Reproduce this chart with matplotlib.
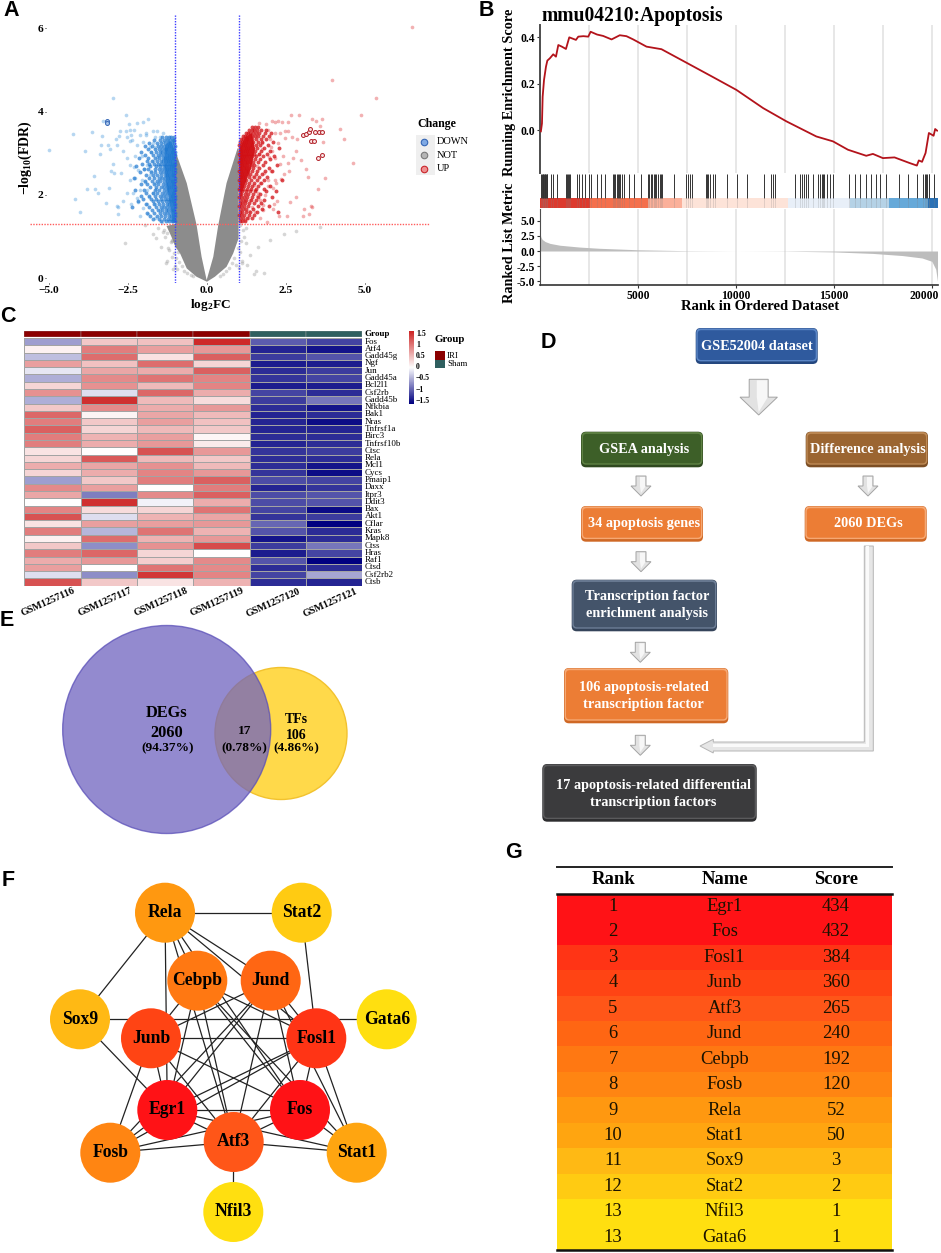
import matplotlib
matplotlib.use("Agg")
import matplotlib.pyplot as plt
from matplotlib.colors import LinearSegmentedColormap
from matplotlib.patches import Circle, FancyBboxPatch, Polygon, Rectangle
from matplotlib.transforms import ScaledTranslation
import numpy as np

W, H = 941, 1253
SERIF = "Liberation Serif"
SANS = "Liberation Sans"

# --- panel A: points (log2FC, -log10 FDR)
blue_x = [-2.96, -2.55, -3.28, -4.23, -3.65, -3.31, -4.99, -3.87, -3.35, -3.12, -3.38, -3.07, -2.96, -3.05, -2.94, -3.56,
          -2.72, -3.79, -3.53, -3.09, -3.44, -4.18, -4.02, -3.18, -2.84, -2.81, -2.83, -2.66, -2.23, -2.01, -1.88, -2.46,
          -2.56, -2.75, -2.31, -2.44, -2.42, -2.52, -2.78, -2.88, -2.84, -2.44, -2.36, -1.93, -1.93, -1.72, -1.57, -1.38,
          -1.65, -1.49, -2.12, -2.23, -2.01, -1.70, -1.65, -1.80, -1.38, -1.22, -1.12, -2.65, -2.52, -2.28, -2.07, -2.44,
          -2.17, -1.91, -1.70, -2.28, -2.44, -2.07, -1.80, -1.65, -2.54, -2.33, -2.12, -1.91, -1.70, -2.42, -2.17, -1.91,
          -1.65, -2.12, -1.86, -1.65, -1.49, -1.43, -1.98, -1.76, -1.84, -2.03, -1.58, -1.62, -1.77, -1.95, -2.20, -2.31]
blue_y = [4.32, 3.92, 3.77, 3.47, 3.52, 3.41, 3.08, 3.05, 3.19, 3.19, 2.97, 3.10, 2.73, 2.56, 2.52, 2.44,
          2.52, 2.15, 2.15, 2.16, 2.05, 1.90, 1.58, 1.81, 1.73, 1.70, 1.53, 1.84, 3.73, 3.76, 3.81, 3.69,
          3.54, 3.54, 3.56, 3.56, 3.44, 3.40, 3.42, 3.33, 3.20, 3.29, 3.32, 3.49, 3.44, 3.54, 3.54, 3.49,
          3.38, 3.40, 3.44, 3.20, 3.28, 3.24, 3.16, 3.14, 3.28, 3.32, 3.32, 3.04, 2.88, 2.92, 2.92, 2.72,
          2.60, 2.72, 2.80, 2.40, 2.36, 2.36, 2.48, 2.28, 2.04, 2.04, 2.12, 2.12, 2.04, 1.79, 1.83, 1.79,
          1.79, 1.49, 1.54, 1.43, 1.63, 1.35, 2.61, 2.58, 1.95, 1.68, 2.90, 2.14, 3.02, 2.30, 1.92, 2.66]
blue_mark_x = [-3.17, -3.17]
blue_mark_y = [3.78, 3.73]
# crowded part of the down-regulated genes, estimated row by row
blue_row_y = [3.38, 3.31, 3.24, 3.17, 3.10, 3.03, 2.96, 2.89, 2.82, 2.75, 2.68, 2.61, 2.54, 2.47, 2.40, 2.33, 2.26, 2.19, 2.12,
              2.05, 1.98, 1.91, 1.84, 1.77, 1.70, 1.63, 1.56, 1.49, 1.42, 1.36]
blue_row_x = [[-1.05, -1.13, -1.21, -1.31, -1.42],
              [-1.04, -1.09, -1.18, -1.27, -1.36, -1.50, -1.68],
              [-1.03, -1.12, -1.16, -1.24, -1.33, -1.44, -1.59, -1.82],
              [-1.02, -1.08, -1.14, -1.20, -1.27, -1.37, -1.47, -1.56, -1.75, -1.95],
              [-1.03, -1.07, -1.15, -1.22, -1.30, -1.34, -1.43, -1.52, -1.66, -1.88],
              [-1.01, -1.06, -1.11, -1.18, -1.25, -1.33, -1.41, -1.49, -1.61, -1.78, -2.10],
              [-1.02, -1.09, -1.13, -1.20, -1.28, -1.36, -1.46, -1.55, -1.70, -1.97],
              [-1.03, -1.07, -1.14, -1.19, -1.26, -1.32, -1.40, -1.51, -1.64, -1.86, -2.15],
              [-1.02, -1.10, -1.16, -1.23, -1.30, -1.38, -1.47, -1.58, -1.73, -1.90],
              [-1.01, -1.05, -1.12, -1.18, -1.27, -1.35, -1.44, -1.54, -1.68, -1.83, -2.05],
              [-1.03, -1.08, -1.15, -1.21, -1.29, -1.37, -1.48, -1.60, -1.79, -2.24],
              [-1.02, -1.06, -1.13, -1.20, -1.26, -1.34, -1.42, -1.53, -1.65, -1.87, -2.00],
              [-1.01, -1.09, -1.14, -1.22, -1.31, -1.39, -1.50, -1.63, -1.76, -2.12],
              [-1.03, -1.07, -1.12, -1.19, -1.25, -1.33, -1.45, -1.57, -1.71, -1.93],
              [-1.02, -1.08, -1.16, -1.24, -1.32, -1.41, -1.52, -1.67, -1.84, -2.30],
              [-1.01, -1.06, -1.11, -1.18, -1.27, -1.36, -1.48, -1.59, -1.74, -1.96],
              [-1.03, -1.09, -1.15, -1.23, -1.30, -1.40, -1.55, -1.69, -1.89, -2.08],
              [-1.02, -1.07, -1.13, -1.20, -1.28, -1.37, -1.46, -1.62, -1.81],
              [-1.01, -1.05, -1.12, -1.19, -1.26, -1.35, -1.51, -1.66, -1.99, -2.27],
              [-1.03, -1.08, -1.14, -1.22, -1.33, -1.43, -1.58, -1.72, -1.92],
              [-1.02, -1.06, -1.11, -1.18, -1.29, -1.39, -1.49, -1.64, -1.85, -2.10],
              [-1.01, -1.09, -1.15, -1.24, -1.34, -1.47, -1.61, -1.78, -2.02],
              [-1.03, -1.07, -1.13, -1.21, -1.31, -1.42, -1.56, -1.70, -2.18],
              [-1.02, -1.05, -1.12, -1.19, -1.27, -1.38, -1.53, -1.69, -1.94],
              [-1.01, -1.08, -1.16, -1.25, -1.36, -1.45, -1.60, -1.82, -2.36],
              [-1.03, -1.06, -1.14, -1.22, -1.30, -1.41, -1.54, -1.75],
              [-1.02, -1.09, -1.17, -1.26, -1.35, -1.50, -1.67, -1.90],
              [-1.01, -1.07, -1.13, -1.21, -1.33, -1.44, -1.58, -1.80],
              [-1.03, -1.08, -1.15, -1.24, -1.37, -1.52, -1.72],
              [-1.02, -1.06, -1.12, -1.20, -1.31, -1.47]]
red_x = [2.66, 2.91, 3.33, 3.45, 3.63, 4.87, 3.59, 4.20, 4.33, 4.61, 3.73, 3.52, 3.13, 3.21, 2.81, 3.29, 3.33, 3.08, 3.23, 3.05,
         2.52, 2.29, 2.23, 2.63, 2.11, 1.78, 2.10, 1.68, 1.91, 3.67, 2.99, 2.86, 2.68, 2.47, 2.82, 2.73, 2.42, 2.31, 2.57, 2.60,
         2.35, 2.15, 1.94, 2.20, 2.10, 1.68, 1.62, 1.52, 1.36, 1.41, 1.52, 1.68, 1.84, 1.31, 1.65, 1.87, 2.05, 2.15, 2.26, 2.36,
         2.55, 1.94, 2.15, 2.31, 2.47, 2.55, 1.99, 2.26, 2.07, 2.15, 3.95, 5.34, 6.48, 1.73, 1.58, 1.82, 1.97, 1.46, 1.77, 1.92,
         1.66, 2.02, 1.33, 1.21, 1.48, 1.74, 2.44, 2.03, 1.58, 1.19]
red_y = [3.91, 3.91, 3.81, 3.78, 3.81, 3.91, 3.65, 3.57, 3.35, 2.77, 2.41, 2.15, 2.61, 2.42, 1.94, 1.73, 1.70, 1.65, 1.55, 1.49,
         1.50, 1.50, 1.86, 1.83, 1.79, 1.63, 1.67, 1.43, 1.35, 3.28, 2.84, 3.33, 3.38, 3.36, 3.04, 2.88, 2.92, 2.73, 2.76, 2.58,
         2.37, 2.36, 2.36, 2.28, 2.16, 2.28, 2.04, 2.12, 1.88, 1.71, 1.59, 1.88, 2.00, 1.43, 3.73, 3.70, 3.78, 3.76, 3.78, 3.76,
         3.76, 3.56, 3.48, 3.48, 3.54, 3.54, 3.33, 3.24, 3.04, 2.88, 4.76, 4.32, 6.02, 3.24, 2.70, 2.52, 2.90, 2.44, 1.76, 2.20,
         2.97, 2.58, 1.62, 1.40, 2.24, 3.10, 2.51, 3.14, 1.97, 1.84]
red_mark_x = [3.04, 3.12, 3.23, 3.27, 3.43, 3.55, 3.64, 3.30, 3.40, 3.53, 3.63]
red_mark_y = [3.43, 3.45, 3.50, 3.57, 3.50, 3.50, 3.50, 3.29, 3.29, 2.88, 2.96]
red_row_y = [3.62, 3.55, 3.48, 3.41, 3.34, 3.27, 3.20, 3.13, 3.06, 2.99, 2.92, 2.85, 2.78, 2.71, 2.64, 2.57, 2.50, 2.43, 2.36, 2.29,
             2.22, 2.15, 2.08, 2.01, 1.94, 1.87, 1.80, 1.73, 1.66, 1.59, 1.52, 1.45, 1.38]
red_row_x = [[1.44, 1.52, 1.61],
             [1.33, 1.41, 1.50, 1.58, 1.72, 1.86],
             [1.22, 1.30, 1.37, 1.46, 1.55, 1.66, 1.84, 2.02],
             [1.14, 1.20, 1.28, 1.35, 1.42, 1.51, 1.63, 1.78, 1.95],
             [1.08, 1.15, 1.22, 1.27, 1.34, 1.43, 1.56, 1.70, 1.88],
             [1.03, 1.10, 1.17, 1.24, 1.31, 1.38, 1.47, 1.60, 1.75, 2.10],
             [1.02, 1.08, 1.14, 1.20, 1.28, 1.36, 1.44, 1.54, 1.67, 1.92],
             [1.04, 1.09, 1.16, 1.22, 1.30, 1.37, 1.46, 1.58, 1.81, 2.28],
             [1.03, 1.07, 1.13, 1.19, 1.26, 1.33, 1.41, 1.52, 1.72, 1.98],
             [1.02, 1.09, 1.15, 1.23, 1.30, 1.38, 1.49, 1.64, 1.89],
             [1.04, 1.10, 1.17, 1.25, 1.34, 1.43, 1.56, 1.76, 2.13],
             [1.03, 1.08, 1.14, 1.21, 1.29, 1.40, 1.53, 1.69, 2.00],
             [1.02, 1.07, 1.12, 1.19, 1.27, 1.36, 1.47, 1.62, 1.85],
             [1.04, 1.11, 1.18, 1.26, 1.39, 1.50, 1.78, 2.22],
             [1.03, 1.09, 1.16, 1.24, 1.33, 1.45, 1.65, 1.95],
             [1.02, 1.08, 1.15, 1.22, 1.31, 1.42, 1.59, 1.83, 2.07],
             [1.04, 1.10, 1.17, 1.28, 1.37, 1.55, 1.73],
             [1.03, 1.07, 1.13, 1.20, 1.34, 1.48, 1.66, 1.90],
             [1.02, 1.09, 1.16, 1.25, 1.40, 1.57, 1.81, 2.38],
             [1.05, 1.12, 1.21, 1.33, 1.49, 1.70],
             [1.03, 1.10, 1.18, 1.29, 1.44, 1.63, 1.98],
             [1.02, 1.08, 1.15, 1.26, 1.39, 1.56, 1.79],
             [1.04, 1.11, 1.22, 1.35, 1.51, 1.88, 2.17],
             [1.03, 1.09, 1.19, 1.31, 1.47, 1.69],
             [1.02, 1.07, 1.16, 1.27, 1.42, 1.60, 2.05],
             [1.05, 1.13, 1.24, 1.38, 1.54, 1.80],
             [1.03, 1.10, 1.20, 1.34, 1.49, 1.72],
             [1.02, 1.08, 1.17, 1.30, 1.62, 1.96],
             [1.04, 1.14, 1.25, 1.45, 1.74],
             [1.03, 1.11, 1.22, 1.37, 1.57, 2.26],
             [1.02, 1.09, 1.18, 1.32, 1.50],
             [1.05, 1.15, 1.28, 1.41],
             [1.03, 1.12, 1.21]]
grey_x = [-1.54, -1.70, -1.95, -1.32, -1.21, -2.60, -1.45, -1.12, -1.30, -1.08, -1.18, 1.22, 1.35, 1.55, 1.80, 2.00, 2.45,
          2.82, 3.58, 1.12, 1.28, 1.48, 1.60, -1.62, -1.25, -1.10, -1.40, -1.35, -1.28, -1.15, -1.05, -1.22, -0.98, -0.92,
          -0.88, -0.80, -0.72, -0.62, -0.52, -0.43, 0.42, 0.50, 0.61, 0.70, 0.78, 0.86, 0.92, 0.98, 1.05, 1.08, 1.15, 1.10,
          1.18, 1.25, 1.04, 1.02, -1.05, -1.12, -1.02, -0.95]
grey_y = [1.20, 1.05, 1.28, 0.98, 0.68, 0.85, 0.75, 0.50, 0.35, 0.22, 1.18, 0.85, 0.55, 0.18, 0.12, 0.92, 1.05,
          1.12, 1.22, 0.35, 0.32, 0.10, 0.75, 0.95, 0.42, 0.90, 1.10, 1.16, 1.08, 0.86, 1.05, 0.72, 0.48, 0.62,
          0.38, 0.28, 0.18, 0.12, 0.07, 0.04, 0.05, 0.10, 0.16, 0.23, 0.36, 0.48, 0.32, 0.72, 0.62, 0.90, 1.15, 0.42,
          0.98, 1.20, 1.28, 0.25, 0.60, 0.92, 0.30, 0.22]
# envelope of the solid parts of the cloud
grey_env_x = [-0.01, -0.17, -0.33, -0.64, -1.0, -1.0, -1.28, -1.13, -1.0, -0.85, -0.64, -0.33, 0.0, 0.25, 0.62, 0.83, 1.0,
              1.0, 0.97, 0.62, 0.36, 0.20]
grey_env_y = [-0.05, 0.51, 1.28, 2.28, 3.05, 1.30, 1.25, 1.0, 0.75, 0.59, 0.23, 0.03, -0.09, 0.03, 0.27, 0.59, 0.95,
              3.10, 3.12, 2.28, 1.28, 0.51]
blue_core_x = [-1.0, -1.0, -1.16, -1.32, -1.36, -1.28, -1.16, -1.08]
blue_core_y = [1.40, 3.02, 3.30, 3.20, 2.80, 2.20, 1.70, 1.42]
red_core_x = [1.0, 1.0, 1.20, 1.42, 1.52, 1.40, 1.22, 1.08]
red_core_y = [2.10, 3.05, 3.38, 3.48, 3.10, 2.65, 2.30, 2.05]

# --- panel B
es_rank = [30, 85, 120, 190, 290, 360, 490, 660, 800, 920, 1100, 1310, 1480, 1820, 1940, 2200, 2450, 2570, 2900, 3210, 3640,
           4060, 4400, 4745, 5425, 6190, 7465, 8825, 10020, 11380, 12570, 14100, 14950, 15715, 16650, 16990, 17500,
           18095, 18860, 19235, 19335, 19500, 19680, 19850, 20090, 20170, 20270]
es_value = [-0.004, 0.03, 0.145, 0.217, 0.274, 0.30, 0.31, 0.327, 0.317, 0.367, 0.36, 0.35, 0.40, 0.389, 0.403, 0.405, 0.403,
            0.424, 0.412, 0.406, 0.391, 0.409, 0.405, 0.391, 0.36, 0.349, 0.291, 0.229, 0.174, 0.096, 0.039, -0.026, -0.047,
            -0.083, -0.109, -0.101, -0.119, -0.116, -0.14, -0.151, -0.129, -0.135, -0.097, -0.011, -0.023, 0.006, -0.001]
hit_ranks = [50, 85, 120, 155, 185, 220, 255, 290, 325, 355, 545, 665, 865, 1290, 1345, 1395, 1460, 1515, 1855, 1990, 2140,
             2280, 2500, 2565, 2875, 3095, 3330, 3690, 3755, 3825, 3895, 3960, 4030, 4095, 4165, 4300, 4540, 4775, 5135,
             5510, 5575, 5645, 5710, 5795, 5865, 5935, 6020, 6105, 6190, 6240, 6815, 7465, 7550, 7635, 7770, 8450, 8515,
             8585, 8685, 8825, 8910, 9555, 10065, 10555, 11405, 11800, 11885, 11985, 12990, 13275, 13360, 13445, 13550,
             13670, 13925, 14210, 14295, 14365, 14435, 14500, 14635, 14775, 14945, 15745, 16080, 16335, 16645, 16900,
             17155, 17375, 17665, 18310, 18770, 19245, 19565, 19635, 19700, 19770, 19840, 19875, 20130]
band_edges = [0, 2550, 5500, 7250, 12650, 15800, 17800, 19800, 20300]
band_colors = ["#dc3a2e", "#f4704d", "#fbb09a", "#fde3d8", "#e8eff8", "#b5d2e6", "#66a9d9", "#2b71b5"]
metric_rank = [0, 30, 100, 250, 500, 1000, 2000, 3000, 5000, 7500, 10000, 12500, 15000, 17000, 18500, 19500, 20000, 20200, 20290]
metric_value = [2.7, 2.3, 1.9, 1.55, 1.25, 0.95, 0.65, 0.45, 0.2, 0.05, 0.0, -0.03, -0.15, -0.4, -0.75, -1.15, -1.7, -3.0, -5.0]

# --- panel C
genes = ["Fos", "Atf4", "Gadd45g", "Ngf", "Jun", "Gadd45a", "Bcl2l1", "Csf2rb", "Gadd45b", "Nfkbia", "Bak1", "Nras", "Tnfrsf1a",
         "Birc3", "Tnfrsf10b", "Ctsc", "Rela", "Mcl1", "Cycs", "Pmaip1", "Daxx", "Itpr3", "Ddit3", "Bax", "Akt1", "Cflar",
         "Kras", "Mapk8", "Ctss", "Hras", "Raf1", "Ctsd", "Csf2rb2", "Ctsb"]
samples = ["GSM1257116", "GSM1257117", "GSM1257118", "GSM1257119", "GSM1257120", "GSM1257121"]
gsm116 = [-0.6, 0.1, -0.4, 0.7, -0.15, -0.5, 0.3, 0.8, -0.5, 0.4, 1.1, 0.95, 1.15, 0.95, 0.95, 0.2, 0.3, 0.6, 0.3, -0.6, 0.85,
          0.65, 0.0, 0.9, 1.25, 0.2, 0.95, 0.1, 0.4, 0.95, 0.6, 0.7, -0.2, 1.25]
gsm117 = [0.4, 0.95, 1.05, 0.45, 0.65, 0.85, 0.8, -0.2, 1.5, 0.85, 0.08, 0.4, 0.3, 0.55, 0.6, 0.0, 1.2, 0.65, 0.6, 0.4, 0.7,
          -0.8, 1.5, 0.25, -0.2, 0.7, -0.45, 1.05, -0.7, 1.1, 0.75, 0.0, -0.7, 0.4]
gsm118 = [0.45, 0.7, 0.2, 1.05, 0.6, 1.0, 0.5, 1.1, 0.5, 0.6, 0.65, 0.7, 0.5, 0.7, 0.75, 1.25, 0.5, 0.8, 0.9, 0.95, 0.0,
          0.85, -0.08, 0.3, 0.55, 0.7, 1.0, 0.55, 0.8, 0.3, 0.35, 1.0, 1.45, 0.2]
gsm119 = [1.55, 0.75, 1.15, 0.3, 1.15, 0.9, 0.9, 0.6, 0.25, 0.75, 0.5, 0.45, 0.4, 0.07, 0.15, 0.75, 0.4, 0.5, 0.75, 1.15, 0.95,
          1.15, 0.6, 1.0, 0.65, 0.75, 0.55, 0.75, 1.3, 0.0, 0.85, 0.85, 0.9, 0.55]
gsm120 = [-1.0, -1.35, -1.2, -1.4, -1.3, -1.25, -1.4, -1.15, -1.2, -1.3, -1.35, -1.35, -1.35, -1.3, -1.35, -1.25, -1.3, -1.3,
          -1.25, -1.1, -1.35, -1.1, -1.1, -1.15, -1.25, -0.95, -1.05, -1.45, -1.2, -1.4, -1.05, -1.3, -1.15, -1.3]
gsm121 = [-1.15, -1.45, -1.05, -1.4, -1.2, -1.15, -1.4, -1.3, -0.85, -1.45, -1.3, -1.5, -1.35, -1.3, -1.3, -1.2, -1.3, -1.45,
          -1.5, -1.15, -1.25, -1.05, -1.05, -1.5, -1.2, -1.6, -1.3, -1.3, -0.85, -1.15, -1.6, -1.3, -0.55, -1.35]
group_colors = ["#8b0000", "#8b0000", "#8b0000", "#8b0000", "#2f5f5f", "#2f5f5f"]
bar_ticks = [1.5, 1, 0.5, 0, -0.5, -1, -1.5]
bar_labels = ["1.5", "1", "0.5", "0", "\u22120.5", "\u22121", "\u22121.5"]

# --- panel F
node_names = ["Rela", "Stat2", "Cebpb", "Jund", "Sox9", "Gata6", "Junb", "Fosl1", "Egr1", "Fos", "Atf3", "Fosb", "Stat1", "Nfil3"]
node_px_x = [165, 301.7, 197.3, 270.7, 80, 386.7, 151, 316.3, 167.3, 300, 233.7, 110.3, 356.7, 233.3]
node_px_y = [912.7, 912.7, 980.7, 980.7, 1019.3, 1019.3, 1038.3, 1038.3, 1110, 1110, 1142, 1152.7, 1152.7, 1212]
edges = [("Rela", "Stat2"), ("Rela", "Sox9"), ("Rela", "Egr1"), ("Rela", "Cebpb"), ("Rela", "Jund"), ("Rela", "Atf3"), ("Rela", "Fos"),
         ("Rela", "Fosl1"), ("Stat2", "Fosl1"), ("Sox9", "Gata6"), ("Sox9", "Egr1"), ("Atf3", "Nfil3"), ("Junb", "Fosl1"), ("Junb", "Fos"),
         ("Junb", "Egr1"), ("Junb", "Atf3"), ("Junb", "Fosb"), ("Junb", "Cebpb"), ("Junb", "Jund"), ("Fosl1", "Egr1"), ("Fosl1", "Atf3"),
         ("Fosl1", "Fos"), ("Fosl1", "Stat1"), ("Fosl1", "Fosb"), ("Egr1", "Fos"), ("Egr1", "Atf3"), ("Egr1", "Fosb"), ("Egr1", "Stat1"),
         ("Egr1", "Jund"), ("Egr1", "Cebpb"), ("Fos", "Atf3"), ("Fos", "Stat1"), ("Fos", "Fosb"), ("Fos", "Cebpb"), ("Fos", "Jund"),
         ("Atf3", "Stat1"), ("Atf3", "Fosb"), ("Atf3", "Jund"), ("Atf3", "Cebpb"), ("Cebpb", "Fosl1"), ("Cebpb", "Stat1"),
         ("Jund", "Fosl1"), ("Jund", "Stat1"), ("Jund", "Fosb")]

# --- panel G
table_rank = [1, 2, 3, 4, 5, 6, 7, 8, 9, 10, 11, 12, 13, 13]
table_name = ["Egr1", "Fos", "Fosl1", "Junb", "Atf3", "Jund", "Cebpb", "Fosb", "Rela", "Stat1", "Sox9", "Stat2", "Nfil3", "Gata6"]
table_score = [434, 432, 384, 360, 265, 240, 192, 120, 52, 50, 3, 2, 1, 1]
table_color = ["#ff1216", "#ff1216", "#ff3415", "#ff4414", "#ff5618", "#ff6613", "#ff7812", "#ff8512", "#ff9810", "#ffa510",
               "#ffb914", "#ffcb12", "#ffdf10", "#ffdf10"]
node_color = dict(zip(table_name, table_color))


def px_axes(fig, left, top, right, bottom):
    return fig.add_axes([left / W, 1 - bottom / H, (right - left) / W, (bottom - top) / H])


def rows_to_points(row_y, row_x):
    xs, ys = [], []
    for y, row in zip(row_y, row_x):
        xs += row
        ys += [y] * len(row)
    return xs, ys


def volcano(fig):
    ax = px_axes(fig, 46, 15, 430, 283)
    ax.set_xlim(-5.095, 7.06)
    ax.set_ylim(-0.12, 6.32)
    ax.fill(blue_core_x, blue_core_y, color="#1f78d0", alpha=0.7, lw=0)
    ax.fill(red_core_x, red_core_y, color="#d10f14", alpha=0.85, lw=0)
    ax.scatter(grey_x, grey_y, s=7, color="#9a9a9a", alpha=0.4, lw=0)
    ax.fill(grey_env_x, grey_env_y, color="#8c8c8c", lw=0)
    ax.scatter(blue_x, blue_y, s=7, color="#4a9ade", alpha=0.40, lw=0)
    ax.scatter(red_x, red_y, s=7, color="#e03c40", alpha=0.40, lw=0)
    bx, by = rows_to_points(blue_row_y, blue_row_x)
    rx, ry = rows_to_points(red_row_y, red_row_x)
    ax.scatter(bx, by, s=8, color="#1f78d0", alpha=0.7, lw=0)
    ax.scatter(rx, ry, s=8, color="#d10f14", alpha=0.75, lw=0)
    ax.scatter(blue_mark_x, blue_mark_y, s=8, facecolor="#a9c6ea", edgecolor="#3566b5", lw=0.7)
    ax.scatter(red_mark_x, red_mark_y, s=8, facecolor="#fbe3e3", edgecolor="#b01d25", lw=0.7)
    ax.plot([-5.6, 7.06], [1.3, 1.3], color="#ff5c5c", ls=(0, (1, 1)), lw=1, clip_on=False)
    ax.axvline(-1, color="#3b3bff", ls=(0, (1, 1)), lw=1)
    ax.axvline(1, color="#3b3bff", ls=(0, (1, 1)), lw=1)
    for s in ax.spines.values():
        s.set_visible(False)
    ax.patch.set_alpha(0)
    ax.set_xticks([-5, -2.5, 0, 2.5, 5], ["\u22125.0", "\u22122.5", "0.0", "2.5", "5.0"])
    ax.set_yticks([0, 2, 4, 6])
    ax.tick_params(length=1, width=0.6, pad=1, labelsize=8.2)
    for t in ax.get_xticklabels() + ax.get_yticklabels():
        t.set_family(SERIF)
        t.set_weight("bold")
    page_text(210, 305, "log$\\mathbf{_2}$FC", 9.6, weight="bold")
    page_text(25, 158, "\u2212log$\\mathbf{_{10}}$(FDR)", 10, weight="bold", rotation=90)
    # legend
    page_text(437, 124, "Change", 8.6, weight="bold")
    for row, (name, face, edge) in enumerate([("DOWN", "#7fa9e4", "#3566b5"), ("NOT", "#b5b5b5", "#7a7a7a"), ("UP", "#ee8f90", "#c9252b")]):
        y = 141.7 + 13.4 * row
        PAGE.add_patch(Rectangle((416.5, y - 6.7), 18.5, 13.4, fc="#efefef", ec="none"))
        PAGE.scatter([424], [y], s=22, facecolor=face, edgecolor=edge, lw=0.8)
        page_text(437, y, name, 7.5, ha="left")


def gsea(fig):
    top = px_axes(fig, 540.3, 25, 937.7, 173)
    mid = px_axes(fig, 540.3, 174.3, 937.7, 207.7)
    low = px_axes(fig, 540.3, 209.3, 937.7, 285)
    for ax in (top, mid, low):
        ax.set_xlim(0, 20300)
        for s in ax.spines.values():
            s.set_visible(False)
        ax.patch.set_alpha(0)
    for ax in (top, low):
        for v in np.arange(2500, 20001, 2500):
            ax.axvline(v, color="#e3e3e3", lw=1.2, zorder=0)
    top.plot(es_rank, es_value, color="#b3131b", lw=1.3, zorder=3)
    top.set_ylim(-0.183, 0.453)
    top.set_xticks([])
    top.set_yticks([0.0, 0.2, 0.4], ["0.0", "0.2", "0.4"])
    top.spines["left"].set_visible(True)
    top.spines["left"].set_color("#4d4d4d")
    top.spines["left"].set_linewidth(1.4)

    mid.set_ylim(0, 1)
    mid.set_xticks([])
    mid.set_yticks([])
    for i, color in enumerate(band_colors):
        mid.axvspan(band_edges[i], band_edges[i + 1], ymin=0, ymax=0.30, color=color, lw=0)
    mid.vlines(hit_ranks, 0.30, 1, color="#333333", lw=0.7)
    mid.vlines(hit_ranks, 0, 0.30, color="#808080", lw=0.4, alpha=0.4)

    low.fill_between(metric_rank, metric_value, 0, color="#bdbdbd", lw=0, zorder=2)
    low.set_ylim(-5.6, 6.87)
    low.set_yticks([-5, -2.5, 0, 2.5, 5], ["-5.0", "-2.5", "0.0", "2.5", "5.0"])
    low.set_xticks([5000, 10000, 15000, 20000])
    low.spines["bottom"].set_visible(True)
    low.spines["bottom"].set_color("#333333")
    low.spines["bottom"].set_linewidth(1.2)
    low.spines["left"].set_visible(True)
    low.spines["left"].set_color("#4d4d4d")
    for ax in (top, low):
        ax.tick_params(length=2, width=0.8, pad=1.5, labelsize=8.4, color="#333333")
        for t in ax.get_xticklabels() + ax.get_yticklabels():
            t.set_family(SERIF)
            t.set_weight("bold")
    # the last rank label sits left of its tick so it stays on the page
    last = low.get_xticklabels()[-1]
    last.set_transform(last.get_transform() + ScaledTranslation(-8 / 100, 0, fig.dpi_scale_trans))
    page_text(541.7, 16.5, "mmu04210:Apoptosis", 14.1, weight="bold", ha="left")
    page_text(510, 92, "Running Enrichment Score", 10.3, weight="bold", rotation=90)
    page_text(510, 243, "Ranked List Metric", 10.3, weight="bold", rotation=90)
    page_text(760, 306.5, "Rank in Ordered Dataset", 10.5, weight="bold")


def heatmap(fig):
    cmap = LinearSegmentedColormap.from_list("rb", ["#000080", "#ffffff", "#cd2626"])
    matrix = np.array([gsm116, gsm117, gsm118, gsm119, gsm120, gsm121]).T
    ax = px_axes(fig, 24.3, 338, 362.3, 585.7)
    ax.pcolormesh(matrix, cmap=cmap, vmin=-1.58, vmax=1.58, edgecolors="#a3a3a3", linewidth=0.4)
    ax.set_ylim(len(genes), 0)
    ax.set_xticks([])
    ax.set_yticks([])
    for s in ax.spines.values():
        s.set_visible(False)
    for i, gene in enumerate(genes):
        ax.annotate(gene, (1, i + 0.5), xycoords=("axes fraction", "data"), xytext=(2, 0),
                    textcoords="offset points", family=SERIF, fontsize=6.5, va="center")
    for i, name in enumerate(samples):
        ax.annotate(name, (i + 0.5, 0), xycoords=("data", "axes fraction"), xytext=(-3, -12),
                    textcoords="offset points", family=SERIF, weight="bold", fontsize=7.3,
                    rotation=24, ha="center", va="center")
    grp = px_axes(fig, 24.3, 331, 362.3, 337)
    grp.bar(np.arange(6) + 0.5, [1] * 6, width=1, color=group_colors, edgecolor="#a3a3a3", linewidth=0.3)
    grp.set_xlim(0, 6)
    grp.set_ylim(0, 1)
    grp.axis("off")
    page_text(365, 333.5, "Group", 6.5, weight="bold", ha="left")
    cb = px_axes(fig, 409.3, 331, 413.7, 404)
    cb.imshow(np.linspace(1.58, -1.58, 100).reshape(-1, 1), cmap=cmap, vmin=-1.58, vmax=1.58, aspect="auto",
              extent=[0, 1, -1.6, 1.6])
    cb.axis("off")
    for v, lab in zip(bar_ticks, bar_labels):
        page_text(416, 367.2 - v * 22.4, lab, 5.6, weight="bold", ha="left")
    page_text(435, 339.5, "Group", 7.8, weight="bold", ha="left")
    for i, (name, color) in enumerate([("IRI", "#8b0000"), ("Sham", "#2f5f5f")]):
        PAGE.add_patch(Rectangle((435.3, 351 + i * 8.7), 9.4, 8.7, fc=color, ec="none"))
        page_text(447, 355.5 + i * 8.7, name, 6.4, ha="left")


def box(x0, y0, x1, y1, face, light, dark, lines, centre_x, line_y, size=10.3):
    PAGE.add_patch(FancyBboxPatch((x0, y0), x1 - x0, y1 - y0, boxstyle="round,pad=0,rounding_size=5", fc=dark, ec="none", zorder=3))
    PAGE.add_patch(FancyBboxPatch((x0 + 0.6, y0 + 0.4), x1 - x0 - 1.2, y1 - y0 - 3, boxstyle="round,pad=0,rounding_size=4.5", fc=light, ec="none", zorder=3))
    PAGE.add_patch(FancyBboxPatch((x0 + 2, y0 + 2.2), x1 - x0 - 4, y1 - y0 - 6.2, boxstyle="round,pad=0,rounding_size=3.5", fc=face, ec="none", zorder=3))
    for text, y in zip(lines, line_y):
        page_text(centre_x, y, text, size, weight="bold", color="white", zorder=4)


def down_arrow(cx, y0, y1, half_head, half_shaft):
    head = y1 - (y1 - y0) * 0.5
    pts = [(cx - half_shaft, y0), (cx + half_shaft, y0), (cx + half_shaft, head), (cx + half_head, head), (cx, y1), (cx - half_head, head), (cx - half_shaft, head)]
    PAGE.add_patch(Polygon(pts, fc="#e2e2e2", ec="#a3a3a3", lw=0.7))
    PAGE.add_patch(Polygon([(cx - half_shaft * 0.2, y0 + 1), (cx + half_shaft - 1, y0 + 1), (cx + half_shaft - 1, head + 1), (cx, y1 - 3), (cx - half_shaft * 0.2, head)], fc="#f7f7f7", ec="none"))


def flowchart():
    box(695.7, 328, 817.7, 364, "#2f5a9e", "#5b86c6", "#24477f", ["GSE52004 dataset"], 756.7, [346])
    box(581, 431.7, 703, 467.3, "#3d5f28", "#5f8244", "#2f491f", ["GSEA analysis"], 644, [449.3])
    box(805.7, 431.7, 928, 467.3, "#9b6531", "#be8a55", "#7c4e24", ["Difference analysis"], 868, [449.3])
    box(581, 506, 703, 541.7, "#ec7d35", "#f6a873", "#cf6825", ["34 apoptosis genes"], 644, [523.7])
    box(804.7, 506, 926.7, 541.7, "#ec7d35", "#f6a873", "#cf6825", ["2060 DEGs"], 868, [523.7])
    box(571.7, 579.7, 717, 631.3, "#44546a", "#6c7d95", "#35445a", ["Transcription factor", "enrichment analysis"], 647, [596.5, 614])
    box(564, 668, 728.3, 723.3, "#ec7d35", "#f6a873", "#cf6825", ["106 apoptosis-related", "transcription factor"], 643.7, [687, 704.5])
    box(542.3, 764, 756.7, 821.7, "#3b3b3d", "#5a5a5c", "#2d2d2f", ["17 apoptosis-related differential", "transcription factors"], 653.3, [785, 802.5])
    down_arrow(758.7, 379.3, 415, 18.7, 9.5)
    down_arrow(641, 476, 496, 10, 5)
    down_arrow(868, 476, 496, 10, 5)
    down_arrow(641, 551.7, 571.7, 10, 5)
    down_arrow(640.3, 642.3, 662.3, 10, 5)
    down_arrow(640.3, 735.3, 755.3, 10, 5)
    # elbow arrow from DEGs into the last step
    elbow = [(864.3, 546), (873.3, 546), (873.3, 751), (713.3, 751), (713.3, 753), (700, 746), (713.3, 739.3), (713.3, 742), (864.3, 742)]
    PAGE.add_patch(Polygon(elbow, fc="#e6e6e6", ec="#b5b5b5", lw=0.7))
    PAGE.plot([867, 867, 714], [547, 745, 745], color="#fafafa", lw=2.2, solid_joinstyle="miter")


def venn():
    PAGE.add_patch(Circle((281, 733.5), 66, fc="#ffd94a", ec="#f2c22e", lw=1))
    PAGE.add_patch(Circle((166.7, 729.5), 104, fc="#6f63c0", ec="#5a4fb8", lw=1, alpha=0.75))
    page_text(167, 713, "DEGs", 11.8, weight="bold")
    page_text(167, 733, "2060", 11.8, weight="bold")
    page_text(168, 748, "(94.37%)", 9.6, weight="bold")
    page_text(245, 731, "17", 9.6, weight="bold")
    page_text(244.5, 748, "(0.78%)", 9.6, weight="bold")
    page_text(296, 719.5, "TFs", 10, weight="bold")
    page_text(296, 735.5, "106", 10, weight="bold")
    page_text(296, 748, "(4.86%)", 9.6, weight="bold")


def network():
    index = {name: i for i, name in enumerate(node_names)}
    for a, b in edges:
        PAGE.plot([node_px_x[index[a]], node_px_x[index[b]]], [node_px_y[index[a]], node_px_y[index[b]]], color="#222222", lw=0.9, zorder=2)
    for name, x, y in zip(node_names, node_px_x, node_px_y):
        PAGE.add_patch(Circle((x, y), 30, fc=node_color[name], ec="none", zorder=3))
        page_text(x, y, name, 12.7, weight="bold", zorder=4)


def table(fig):
    ax = px_axes(fig, 557, 866, 892, 1250)
    ax.set_xlim(557, 892)
    ax.set_ylim(14, -1.09)
    ax.barh(np.arange(14) + 0.5, [335] * 14, left=557, height=1, color=table_color, lw=0)
    ax.axis("off")
    for x, head in zip([613, 724.5, 836], ["Rank", "Name", "Score"]):
        ax.text(x, -0.56, head, family=SERIF, weight="bold", fontsize=13.4, ha="center", va="center")
    for i in range(14):
        ax.text(613, i + 0.5, str(table_rank[i]), family=SERIF, fontsize=13.4, ha="center", va="center", color="#1a1200")
        ax.text(724.5, i + 0.5, table_name[i], family=SERIF, fontsize=13.4, ha="center", va="center", color="#1a1200")
        ax.text(836, i + 0.5, str(table_score[i]), family=SERIF, fontsize=13.4, ha="center", va="center", color="#1a1200")
    ax.plot([557, 892], [-1.07, -1.07], color="#222222", lw=1.4, clip_on=False)
    ax.plot([557, 892], [0, 0], color="#111111", lw=1.8, clip_on=False)
    ax.plot([557, 892], [14, 14], color="#111111", lw=1.8, clip_on=False)


def page_text(x, y, s, size, **kw):
    kw.setdefault("ha", "center")
    kw.setdefault("va", "center")
    kw.setdefault("family", SERIF)
    PAGE.text(x, y, s, fontsize=size, **kw)


fig = plt.figure(figsize=(W / 100, H / 100), dpi=100, facecolor="white")
plt.rcParams["mathtext.fontset"] = "custom"
plt.rcParams["mathtext.rm"] = SERIF
plt.rcParams["mathtext.bf"] = SERIF + ":bold"
PAGE = fig.add_axes([0, 0, 1, 1])
PAGE.set_xlim(0, W)
PAGE.set_ylim(H, 0)
PAGE.axis("off")

volcano(fig)
gsea(fig)
heatmap(fig)
flowchart()
venn()
network()
table(fig)

for letter, x, y in [("A", 11, 11), ("B", 486, 10), ("C", 8, 316), ("D", 548, 343), ("E", 7, 620), ("F", 8, 881), ("G", 514, 852)]:
    PAGE.text(x, y, letter, family=SANS, weight="bold", fontsize=15.5, ha="center", va="center")

fig.savefig("out.png", dpi=100)
